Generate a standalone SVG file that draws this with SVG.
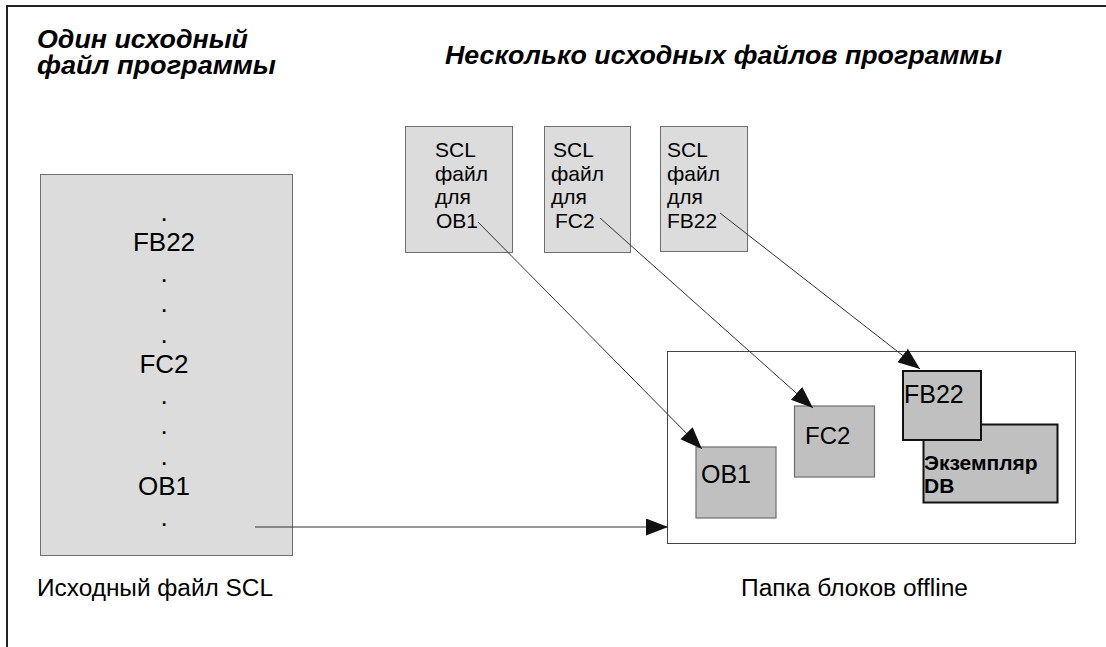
<svg xmlns="http://www.w3.org/2000/svg" width="1106" height="647" viewBox="0 0 1106 647">
  <style>
    .title { font-family: "Liberation Sans", Arial, sans-serif; font-weight: bold; font-style: italic; font-size: 25px; fill: #000; }
    .txt { font-family: "Liberation Sans", Arial, sans-serif; fill: #000; }
    .src { fill: #dcdcdc; stroke: #6e6e6e; stroke-width: 1; }
    .blk { fill: #c0c0c0; stroke: #6e6e6e; stroke-width: 1.2; }
    .blk-strong { fill: #c0c0c0; stroke: #111; stroke-width: 2; }
    .conn { fill: none; stroke: #333; stroke-width: 1; }
  </style>
  <defs>
    <marker id="arrow" markerUnits="userSpaceOnUse" markerWidth="23" markerHeight="18" refX="22" refY="8.5" orient="auto">
      <path d="M0,0 L22,8.5 L0,17 z" fill="#111"/>
    </marker>
  </defs>
  <rect width="1106" height="647" fill="#fff"/>

  <!-- outer frame: top and left edges only -->
  <path d="M7,647 V6 H1106" fill="none" stroke="#222" stroke-width="2"/>

  <!-- headings -->
  <g id="heading-single">
    <text class="title" x="37" y="48" textLength="211" lengthAdjust="spacingAndGlyphs">Один исходный</text>
    <text class="title" x="37" y="74" textLength="239" lengthAdjust="spacingAndGlyphs">файл программы</text>
  </g>
  <g id="heading-multiple">
    <text class="title" x="445" y="64" textLength="557" lengthAdjust="spacingAndGlyphs">Несколько исходных файлов программы</text>
  </g>

  <!-- single SCL source file -->
  <g id="single-source">
    <rect class="src" x="40.5" y="174.5" width="252" height="381"/>
    <g class="txt" font-size="26" text-anchor="middle">
      <text x="164" y="221">.</text>
      <text x="164" y="251">FB22</text>
      <text x="164" y="282">.</text>
      <text x="164" y="312">.</text>
      <text x="164" y="343">.</text>
      <text x="164" y="373">FC2</text>
      <text x="164" y="404">.</text>
      <text x="164" y="434">.</text>
      <text x="164" y="465">.</text>
      <text x="164" y="495">OB1</text>
      <text x="164" y="526">.</text>
    </g>
    <text class="txt" font-size="23" x="37" y="596" textLength="236" lengthAdjust="spacingAndGlyphs">Исходный файл SCL</text>
  </g>

  <!-- separate SCL source files -->
  <g id="source-ob1">
    <rect class="src" x="405.5" y="126.5" width="107" height="126"/>
    <g class="txt" font-size="21">
      <text x="435" y="157">SCL</text>
      <text x="435" y="181">файл</text>
      <text x="435" y="204">для</text>
      <text x="436" y="228">OB1</text>
    </g>
  </g>
  <g id="source-fc2">
    <rect class="src" x="544.5" y="126.5" width="86" height="126"/>
    <g class="txt" font-size="21">
      <text x="553" y="157">SCL</text>
      <text x="551" y="181">файл</text>
      <text x="551" y="204">для</text>
      <text x="555" y="228">FC2</text>
    </g>
  </g>
  <g id="source-fb22">
    <rect class="src" x="660.5" y="126.5" width="87" height="125"/>
    <g class="txt" font-size="21">
      <text x="667" y="157">SCL</text>
      <text x="667" y="181">файл</text>
      <text x="667" y="204">для</text>
      <text x="667" y="228">FB22</text>
    </g>
  </g>

  <!-- offline block folder -->
  <g id="block-folder">
    <rect x="667.5" y="351.5" width="408" height="192" fill="#fff" stroke="#444" stroke-width="1"/>
    <text class="txt" font-size="23" x="741" y="596" textLength="227" lengthAdjust="spacingAndGlyphs">Папка блоков offline</text>
  </g>
  <g id="block-ob1">
    <rect class="blk" x="696" y="447" width="80" height="71"/>
    <text class="txt" font-size="25" x="701" y="483">OB1</text>
  </g>
  <g id="block-fc2">
    <rect class="blk" x="794.5" y="406" width="80" height="71"/>
    <text class="txt" font-size="24" x="805" y="444">FC2</text>
  </g>
  <g id="block-instance-db">
    <rect class="blk-strong" x="923.5" y="424.5" width="134" height="78"/>
    <g class="txt" font-size="21" font-weight="bold">
      <text x="924" y="470">Экземпляр</text>
      <text x="924" y="493">DB</text>
    </g>
  </g>
  <g id="block-fb22">
    <rect class="blk-strong" x="903" y="371" width="78" height="69"/>
    <text class="txt" font-size="25" x="904" y="403">FB22</text>
  </g>

  <!-- connectors -->
  <g id="connectors">
    <path class="conn" d="M478,222 L702,449" marker-end="url(#arrow)"/>
    <path class="conn" d="M600,218 L813,408" marker-end="url(#arrow)"/>
    <path class="conn" d="M720,213 L920,369" marker-end="url(#arrow)"/>
    <path class="conn" d="M255,527 L668,527" marker-end="url(#arrow)"/>
  </g>
</svg>
